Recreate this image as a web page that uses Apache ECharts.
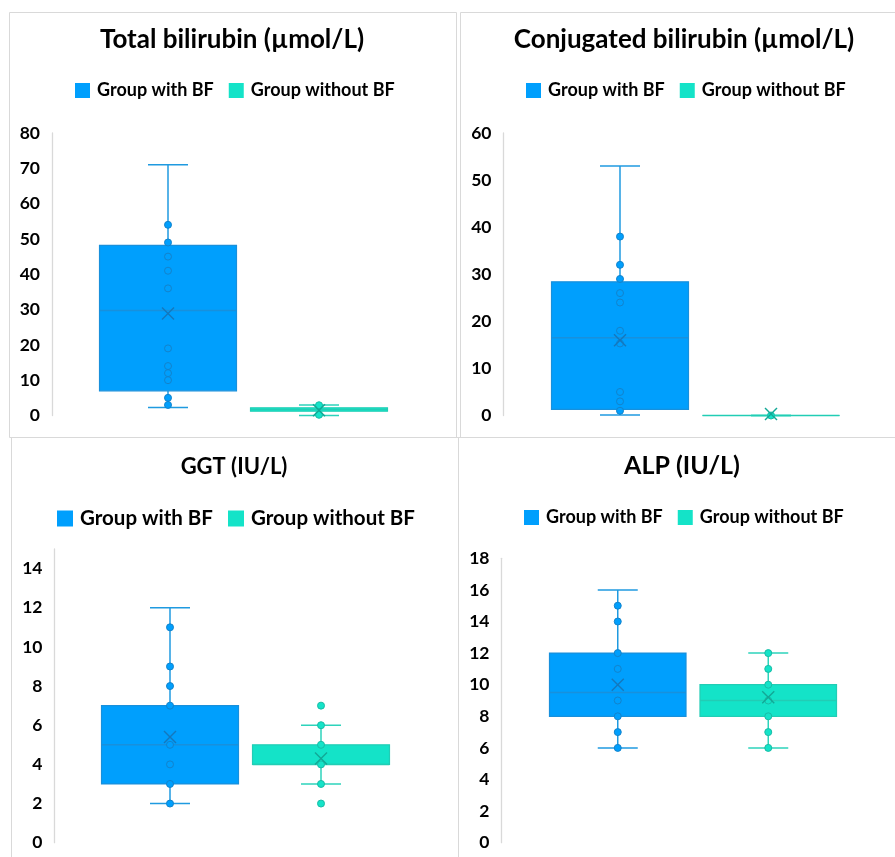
<!DOCTYPE html>
<html><head><meta charset="utf-8">
<script src="https://cdn.jsdelivr.net/npm/echarts@6/dist/echarts.min.js"></script>
<style>html,body{margin:0;padding:0;background:#fff}#c{width:895px;height:857px}</style>
</head><body><div id="c"></div>
<script>
// ---------- data ----------
const categories = ['Group with BF', 'Group without BF'];
// box stats: [min, q1, median, q3, max] for [with BF, without BF]
const tbBox = [[2.3, 7, 29.7, 48.2, 71], [0, 1.2, 1.7, 2.2, 3]];
const tbMean = [28.9, 1.5];
const tbPtsWith = [54, 49, 45, 41, 36, 19, 14, 12, 10, 5, 3];
const tbPtsWithout = [2.9, 0.2];

const cbBox = [[0.1, 1.3, 16.5, 28.4, 53], [0, 0, 0, 0, 0]];
const cbMean = [16.0, 0.3];
const cbPtsWith = [38, 32, 29, 26, 24, 18, 15.3, 5, 3, 1];
const cbPtsWithout = [0];

const ggtBox = [[2, 3, 5, 7, 12], [3, 4, 4, 5, 6]];
const ggtMean = [5.4, 4.3];
const ggtPtsWith = [11, 9, 8, 7, 5, 4, 3, 2];
const ggtPtsWithout = [7, 6, 5, 4, 3, 2];

const alpBox = [[6, 8, 9.5, 12, 16], [6, 8, 9, 10, 12]];
const alpMean = [10, 9.2];
const alpPtsWith = [15, 14, 12, 11, 9, 8, 7, 6];
const alpPtsWithout = [12, 11, 10, 9, 8, 7, 6];

const titles = ['Total bilirubin (µmol/L)', 'Conjugated bilirubin (µmol/L)', 'GGT (IU/L)', 'ALP (IU/L)'];
const yMax = [80, 60, 15, 18];
const yInterval = [10, 10, 2, 2];

// ---------- styles / layout ----------
const FONT = 'Lato';
const colors = [
  {fill: '#009ffd', stroke: '#1890dc', line: '#1f9ae0', dot: '#009ffd', dotBorder: '#1283cc', mean: '#1478bd'},
  {fill: '#14e3c8', stroke: '#22cdb5', line: '#2dd3bb', dot: '#14e3c8', dotBorder: '#18bca6', mean: '#12a896'}
];
const panels = [
  {box: tbBox, mean: tbMean, pts: [tbPtsWith, tbPtsWithout],
   grid: {left: 92.5, top: 133, width: 302, height: 282.5}, offset: 40.5,
   tx: 232, ty: 40, tfs: 26, lg: {left: 75, top: 81.5}, lfs: 18, lis: 15},
  {box: cbBox, mean: cbMean, pts: [cbPtsWith, cbPtsWithout],
   grid: {left: 544.5, top: 133, width: 302, height: 282.5}, offset: 41,
   tx: 684, ty: 40, tfs: 26, lg: {left: 526, top: 81.5}, lfs: 18, lis: 15},
  {box: ggtBox, mean: ggtMean, pts: [ggtPtsWith, ggtPtsWithout],
   grid: {left: 94.5, top: 549, width: 302, height: 293.7}, offset: 40,
   tx: 234, ty: 467, tfs: 22, lg: {left: 57, top: 508}, lfs: 20.5, lis: 16},
  {box: alpBox, mean: alpMean, pts: [alpPtsWith, alpPtsWithout],
   grid: {left: 542.5, top: 558.3, width: 301, height: 284.4}, offset: 41,
   tx: 682, ty: 466, tfs: 25, lg: {left: 524, top: 508.5}, lfs: 18, lis: 15}
];

function boxRender(col) {
  return function (params, api) {
    const c = api.value(0);
    const pMin = api.coord([c, api.value(1)]);
    const pQ1 = api.coord([c, api.value(2)]);
    const pMed = api.coord([c, api.value(3)]);
    const pQ3 = api.coord([c, api.value(4)]);
    const pMax = api.coord([c, api.value(5)]);
    const band = api.size([1, 0])[0];
    const bw = band * 0.907;
    const x = pMin[0];
    const cap = 20;
    const ln = {stroke: col.line, lineWidth: 1.5};
    return {type: 'group', children: [
      {type: 'line', shape: {x1: x, y1: pMax[1], x2: x, y2: pQ3[1]}, style: ln},
      {type: 'line', shape: {x1: x, y1: pQ1[1], x2: x, y2: pMin[1]}, style: ln},
      {type: 'line', shape: {x1: x - cap, y1: pMax[1], x2: x + cap, y2: pMax[1]}, style: ln},
      {type: 'line', shape: {x1: x - cap, y1: pMin[1], x2: x + cap, y2: pMin[1]}, style: ln},
      {type: 'rect', shape: {x: x - bw / 2, y: pQ3[1], width: bw, height: Math.max(pQ1[1] - pQ3[1], 0)},
       style: {fill: col.fill, stroke: col.stroke, lineWidth: 1.2}},
      {type: 'line', shape: {x1: x - bw / 2, y1: pMed[1], x2: x + bw / 2, y2: pMed[1]},
       style: {stroke: col.stroke, lineWidth: 1.5}}
    ]};
  };
}
function meanRender(col) {
  return function (params, api) {
    const p = api.coord([api.value(0), api.value(1)]);
    const s = 6;
    const st = {stroke: col.mean, lineWidth: 1.4};
    return {type: 'group', children: [
      {type: 'line', shape: {x1: p[0] - s, y1: p[1] - s, x2: p[0] + s, y2: p[1] + s}, style: st},
      {type: 'line', shape: {x1: p[0] - s, y1: p[1] + s, x2: p[0] + s, y2: p[1] - s}, style: st}
    ]};
  };
}

const grid = [], xAxis = [], yAxis = [], legend = [], series = [], graphic = [];
panels.forEach((p, i) => {
  grid.push(Object.assign({containLabel: false}, p.grid));
  xAxis.push({type: 'category', gridIndex: i, data: categories, show: false});
  yAxis.push({
    type: 'value', gridIndex: i, min: 0, max: yMax[i], interval: yInterval[i], offset: p.offset,
    axisLine: {show: true, lineStyle: {color: '#d9d9d9', width: 1.3}},
    axisTick: {show: false}, splitLine: {show: false},
    axisLabel: {color: '#000', fontWeight: 'bold', fontSize: 17.5, fontFamily: FONT, margin: 12,
      formatter: v => (v % yInterval[i] === 0 ? String(v) : '')}
  });
  legend.push({
    data: categories.map(n => ({name: n, icon: 'rect'})),
    left: p.lg.left, top: p.lg.top, padding: 0, itemWidth: p.lis, itemHeight: p.lis, itemGap: 15,
    selectedMode: false,
    itemStyle: {borderWidth: 0},
    textStyle: {fontFamily: FONT, fontWeight: 'bold', fontSize: p.lfs, color: '#000', padding: [0, 0, 0, 2]}
  });
  graphic.push({type: 'text', x: p.tx, y: p.ty,
    style: {text: titles[i], fill: '#000', font: 'bold ' + p.tfs + 'px ' + FONT, textAlign: 'center', textVerticalAlign: 'middle'}});
  categories.forEach((name, g) => {
    const col = colors[g];
    series.push({
      type: 'custom', name: name, xAxisIndex: i, yAxisIndex: i, z: 2,
      color: col.fill, itemStyle: {color: col.fill},
      renderItem: boxRender(col),
      encode: {x: 0, y: [1, 2, 3, 4, 5]},
      data: [[g].concat(p.box[g])], silent: true
    });
    series.push({
      type: 'scatter', name: 'pts' + i + g, xAxisIndex: i, yAxisIndex: i, z: 3,
      symbol: 'circle', symbolSize: 7,
      itemStyle: {color: col.dot, borderColor: col.dotBorder, borderWidth: 1, opacity: 1},
      data: p.pts[g].map(v => [g, v]), silent: true
    });
    series.push({
      type: 'custom', name: 'mean' + i + g, xAxisIndex: i, yAxisIndex: i, z: 4,
      renderItem: meanRender(col), encode: {x: 0, y: 1},
      data: [[g, p.mean[g]]], silent: true
    });
  });
});
// panel frames
[[9, 12, 447, 425], [460, 12, 440, 425], [11, 437, 447, 425], [458, 437, 442, 425]].forEach(r => {
  graphic.push({type: 'rect', shape: {x: r[0] + 0.5, y: r[1] + 0.5, width: r[2], height: r[3]},
    style: {fill: 'none', stroke: '#d9d9d9', lineWidth: 1}, z: 0, silent: true});
});

const chart = echarts.init(document.getElementById('c'), null, {renderer: 'canvas'});
chart.setOption({
  backgroundColor: '#fff', animation: false,
  grid, xAxis, yAxis, legend, series, graphic
});
</script></body></html>
